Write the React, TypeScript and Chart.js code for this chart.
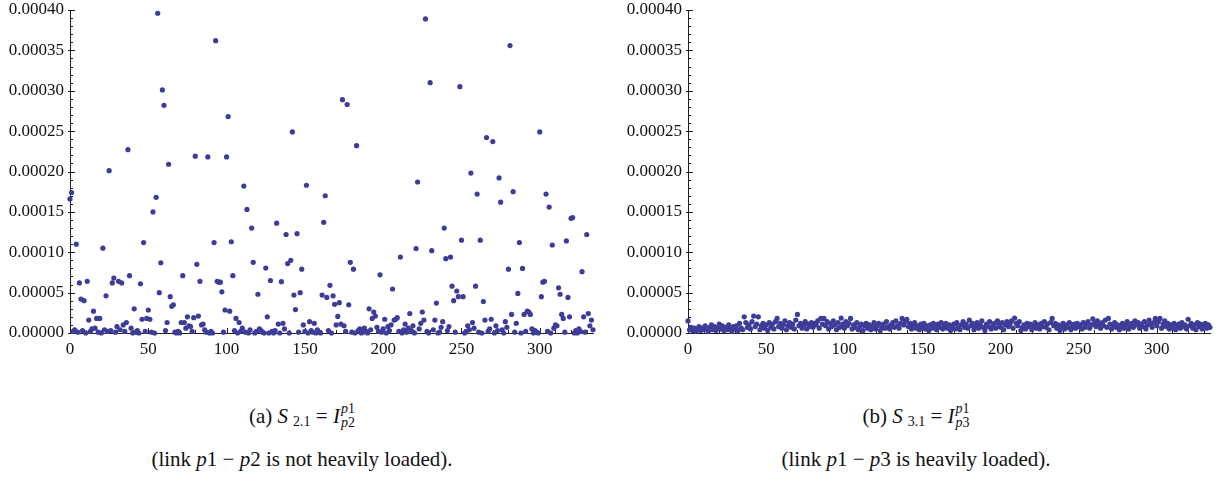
import React, { useEffect, useRef } from 'react';
import { Chart, registerables } from 'chart.js';

Chart.register(...registerables);

// ---------- data ----------
const X_MAX = 334;
const X_TICKS = [0, 50, 100, 150, 200, 250, 300];
const X_MINOR_STEP = 10;
const Y_MAX = 0.0004;
const Y_TICKS = [0, 0.00005, 0.0001, 0.00015, 0.0002, 0.00025, 0.0003, 0.00035, 0.0004];
const Y_TICK_LABELS = ['0.00000', '0.00005', '0.00010', '0.00015', '0.00020', '0.00025', '0.00030', '0.00035', '0.00040'];
const Y_MINOR_STEP = 0.00001;
const VALUE_UNIT = 1e-5;

// (a) S2.1 values, index 0..334, in units of 1e-5
const S21 = [
  16.6, 17.4, 0.2, 0.4, 11.0, 0.1, 6.2, 4.2, 0.3, 4.0,
  0.0, 6.4, 1.6, 0.2, 0.5, 2.7, 0.6, 1.8, 0.1, 1.8,
  0.0, 10.5, 0.4, 4.6, 0.2, 20.1, 0.3, 6.2, 6.8, 0.1,
  0.8, 6.4, 0.4, 6.2, 1.0, 0.2, 1.3, 22.7, 7.1, 0.6,
  0.0, 3.0, 0.1, 0.3, 0.0, 6.1, 1.7, 11.2, 0.2, 1.8,
  2.85, 1.7, 0.1, 15.0, 0.0, 16.8, 39.6, 5.0, 8.7, 30.1,
  28.2, 0.3, 1.3, 20.9, 4.5, 3.3, 3.5, 0.1, 0.0, 0.2,
  0.0, 1.3, 7.1, 1.3, 0.6, 2.0, 0.9, 0.8, 0.2, 1.9,
  21.9, 8.5, 2.1, 6.4, 1.0, 1.1, 0.4, 0.1, 21.8, 0.0,
  0.2, 0.0, 11.2, 36.2, 6.4, 6.3, 6.3, 5.1, 0.1, 2.85,
  21.8, 26.8, 2.7, 11.3, 7.1, 0.3, 1.8, 0.0, 1.3, 0.2,
  0.6, 18.2, 0.1, 15.3, 0.0, 0.4, 13.0, 8.75, 0.0, 0.2,
  4.8, 0.5, 0.3, 0.1, 0.0, 8.05, 2.0, 0.0, 6.5, 0.2,
  0.0, 0.3, 13.6, 1.1, 0.0, 6.35, 1.2, 0.5, 12.2, 8.6,
  0.0, 9.0, 24.9, 4.7, 2.9, 12.3, 0.1, 5.0, 7.9, 1.0,
  0.2, 18.3, 0.0, 1.4, 0.3, 0.1, 1.2, 0.0, 0.4, 0.1,
  0.0, 4.7, 13.7, 17.0, 4.4, 0.3, 5.9, 0.0, 4.6, 3.55,
  1.0, 2.05, 3.75, 1.1, 28.9, 0.9, 0.2, 28.3, 3.5, 8.75,
  0.1, 7.9, 0.0, 23.2, 0.3, 0.5, 0.0, 0.1, 0.6, 0.2,
  0.0, 3.0, 0.4, 1.8, 2.6, 2.1, 0.7, 0.2, 7.2, 0.1,
  0.5, 1.7, 0.0, 0.8, 0.3, 1.0, 5.45, 1.6, 1.7, 1.9,
  0.2, 9.4, 0.0, 0.4, 1.1, 0.1, 0.6, 2.4, 0.3, 0.9,
  0.0, 10.45, 18.7, 0.5, 1.2, 2.6, 1.6, 38.9, 0.2, 0.0,
  31.0, 10.2, 0.4, 1.6, 3.7, 0.0, 0.1, 0.7, 1.4, 13.0,
  9.2, 0.3, 0.8, 9.4, 5.8, 4.0, 0.1, 5.2, 4.5, 30.5,
  11.5, 4.5, 0.0, 0.2, 0.9, 0.4, 19.8, 1.3, 0.6, 5.8,
  17.2, 0.1, 11.5, 0.0, 3.9, 1.6, 24.2, 0.2, 0.5, 1.7,
  23.7, 0.0, 0.9, 0.3, 19.2, 16.2, 0.4, 0.0, 1.4, 0.7,
  7.9, 35.6, 2.3, 17.5, 0.1, 1.2, 4.9, 11.2, 0.0, 8.0,
  2.3, 0.2, 2.7, 2.6, 2.3, 0.5, 0.0, 0.3, 0.1, 0.0,
  24.9, 4.5, 6.3, 6.4, 17.2, 0.2, 15.6, 0.0, 10.9, 0.6,
  1.0, 0.9, 5.6, 4.8, 2.3, 1.8, 0.1, 11.4, 4.4, 2.0,
  14.2, 14.3, 0.0, 0.3, 0.0, 0.5, 0.2, 7.6, 2.0, 0.1,
  12.2, 2.4, 0.9, 1.6, 0.4,
];

// (b) S3.1 values, index 0..334, in units of 1e-5
const S31 = [
  1.5, 0.4, 0.7, 0.3, 0.6, 0.2, 0.5, 0.8, 0.3, 0.6,
  0.4, 0.9, 0.5, 0.2, 0.7, 1.0, 0.4, 0.8, 0.3, 0.6,
  1.1, 0.5, 0.9, 0.3, 0.7, 0.4, 1.0, 0.6, 0.2, 0.8,
  0.5, 0.9, 0.3, 1.2, 0.6, 0.4, 2.0, 1.3, 0.7, 1.0,
  0.5, 1.4, 2.1, 0.8, 1.1, 2.0, 0.4, 0.9, 1.2, 0.6,
  1.0, 0.3, 1.3, 0.7, 1.1, 0.5, 1.4, 1.8, 0.8, 1.2,
  0.6, 1.0, 1.5, 0.4, 0.9, 1.3, 0.7, 1.1, 0.5, 1.6,
  2.3, 0.9, 1.2, 0.6, 1.0, 1.4, 0.5, 1.1, 0.8, 1.3,
  0.7, 1.2, 1.0, 1.5, 0.6, 1.8, 1.1, 1.8, 0.9, 1.4,
  0.5, 1.2, 0.8, 1.5, 1.0, 0.4, 1.3, 0.7, 1.85, 1.1,
  0.6, 1.4, 0.9, 1.2, 1.8, 0.5, 1.0, 0.7, 1.3, 0.4,
  0.8, 1.1, 0.3, 0.9, 1.2, 0.6, 1.0, 0.4, 0.8, 1.3,
  0.5, 0.9, 1.2, 0.3, 0.7, 1.1, 0.6, 1.4, 0.8, 0.5,
  1.0, 1.3, 0.7, 1.5, 0.9, 0.6, 1.2, 1.8, 1.0, 1.4,
  1.7, 0.8, 1.2, 0.5, 1.0, 1.3, 0.6, 0.9, 0.4, 1.1,
  0.7, 1.2, 0.5, 0.9, 0.3, 1.0, 0.6, 1.2, 0.8, 0.4,
  1.1, 0.7, 1.3, 0.5, 0.9, 1.2, 0.6, 1.0, 0.3, 0.8,
  1.1, 0.5, 1.3, 0.8, 0.4, 1.0, 1.4, 0.7, 1.1, 0.6,
  1.6, 0.9, 1.2, 0.4, 0.8, 1.3, 0.6, 1.0, 1.5, 0.7,
  0.3, 1.1, 0.8, 1.4, 0.5, 0.9, 1.2, 0.6, 1.5, 1.0,
  0.7, 1.3, 0.4, 1.0, 1.4, 0.8, 1.1, 1.5, 0.6, 1.85,
  1.2, 0.9, 1.4, 0.3, 0.7, 1.0, 0.5, 1.2, 0.8, 1.1,
  0.4, 0.9, 1.3, 0.6, 1.0, 0.5, 1.2, 0.8, 1.4, 0.7,
  1.1, 0.4, 1.3, 1.8, 0.9, 1.2, 0.6, 1.0, 0.3, 0.8,
  1.2, 0.5, 1.0, 0.7, 1.3, 0.4, 0.9, 1.1, 0.6, 1.2,
  0.8, 1.0, 0.5, 1.3, 0.7, 1.1, 1.4, 0.6, 1.0, 1.75,
  1.2, 0.8, 1.5, 1.0, 0.6, 1.3, 0.9, 1.6, 0.7, 1.8,
  1.1, 0.5, 0.9, 1.3, 0.7, 1.0, 0.4, 0.8, 1.2, 0.6,
  1.0, 1.4, 0.5, 0.9, 1.2, 0.7, 1.5, 1.0, 1.3, 0.6,
  1.1, 0.8, 1.4, 0.5, 1.0, 1.6, 1.2, 0.7, 1.3, 1.8,
  0.9, 1.4, 1.8, 0.6, 1.1, 1.5, 0.8, 1.2, 0.5, 1.0,
  0.7, 1.2, 0.4, 0.9, 1.1, 0.6, 1.3, 0.8, 1.0, 0.5,
  1.7, 0.9, 1.2, 0.6, 1.0, 0.4, 1.3, 0.8, 1.1, 0.5,
  0.9, 1.2, 0.6, 1.0, 0.7,
];

// ---------- style ----------
const SERIF = '"Liberation Serif", "Times New Roman", Times, serif';
const POINT_COLOR = '#3d3d99';
const AXIS_COLOR = '#1e1e1e';
const CANVAS_H = 365;
const PLOT_TOP = 10;
const PLOT_BOTTOM = 333;

const inwardTicks = {
  id: 'inwardTicks',
  beforeDatasetsDraw(chart: any) {
    const { ctx, chartArea, scales } = chart;
    const xs = scales.x;
    const ys = scales.y;
    ctx.save();
    ctx.strokeStyle = AXIS_COLOR;
    ctx.lineWidth = 1;
    ctx.beginPath();
    for (let v = 0; v <= X_MAX; v += X_MINOR_STEP) {
      const px = Math.round(xs.getPixelForValue(v)) + 0.5;
      const major = v % 50 === 0;
      ctx.moveTo(px, chartArea.bottom + (major ? 1 : 0));
      ctx.lineTo(px, chartArea.bottom - (major ? 5 : 3));
    }
    const nMinor = Math.round(Y_MAX / Y_MINOR_STEP);
    for (let k = 0; k <= nMinor; k++) {
      const py = Math.round(ys.getPixelForValue(k * Y_MINOR_STEP)) + 0.5;
      const major = k % 5 === 0;
      ctx.moveTo(chartArea.left - (major ? 2 : 0), py);
      ctx.lineTo(chartArea.left + (major ? 5 : 3), py);
    }
    ctx.stroke();
    ctx.restore();
  },
};

type PanelProps = { values: number[]; left: number; width: number; yAxisW: number; rightPad: number };

function ScatterPanel({ values, left, width, yAxisW, rightPad }: PanelProps) {
  const ref = useRef<HTMLCanvasElement | null>(null);
  useEffect(() => {
    if (!ref.current) return;
    const chart = new Chart(ref.current, {
      type: 'scatter',
      data: {
        datasets: [
          {
            data: values.map((v, i) => ({ x: i, y: v * VALUE_UNIT })),
            pointRadius: 2.6,
            pointHoverRadius: 2.6,
            pointBackgroundColor: POINT_COLOR,
            backgroundColor: POINT_COLOR,
            borderWidth: 0,
            pointBorderWidth: 0,
            clip: false,
          } as any,
        ],
      },
      options: {
        animation: false,
        responsive: false,
        maintainAspectRatio: false,
        events: [],
        layout: { padding: { left: 0, right: rightPad, top: PLOT_TOP, bottom: 0 } },
        plugins: { legend: { display: false }, tooltip: { enabled: false }, title: { display: false } },
        scales: {
          x: {
            type: 'linear',
            min: 0,
            max: X_MAX,
            grid: { display: false, drawTicks: false },
            border: { display: true, color: AXIS_COLOR, width: 1 },
            afterBuildTicks: (s: any) => {
              s.ticks = X_TICKS.map((value) => ({ value }));
            },
            afterFit: (s: any) => {
              s.height = CANVAS_H - PLOT_BOTTOM;
              s.paddingLeft = 0;
              s.paddingRight = 0;
            },
            ticks: {
              padding: 6,
              color: '#111',
              maxRotation: 0,
              autoSkip: false,
              font: { family: SERIF, size: 17 },
              callback: (v: any) => String(v),
            },
          },
          y: {
            type: 'linear',
            min: 0,
            max: Y_MAX,
            grid: { display: false, drawTicks: false },
            border: { display: true, color: AXIS_COLOR, width: 1 },
            afterBuildTicks: (s: any) => {
              s.ticks = Y_TICKS.map((value) => ({ value }));
            },
            afterFit: (s: any) => {
              s.width = yAxisW;
              s.paddingTop = 0;
              s.paddingBottom = 0;
            },
            ticks: {
              padding: 6,
              color: '#111',
              autoSkip: false,
              font: { family: SERIF, size: 17 },
              callback: (_v: any, i: number) => Y_TICK_LABELS[i],
            },
          },
        },
      } as any,
      plugins: [inwardTicks],
    });
    return () => chart.destroy();
  }, [values, yAxisW, rightPad]);
  return (
    <canvas
      ref={ref}
      width={width}
      height={CANVAS_H}
      style={{ position: 'absolute', left, top: 0, width, height: CANVAS_H, display: 'block' }}
    />
  );
}

const scriptStyle: React.CSSProperties = { fontSize: 14 };

function Caption({ cx, tag, subIdx, lower, line2 }: { cx: number; tag: string; subIdx: string; lower: string; line2: React.ReactNode }) {
  const boxW = 500;
  return (
    <>
      <div
        style={{
          position: 'absolute', left: cx - boxW / 2, top: 402, width: boxW, textAlign: 'center',
          fontFamily: SERIF, fontSize: 21, lineHeight: '24px', color: '#111', whiteSpace: 'nowrap',
        }}
      >
        ({tag}) <i>S</i>
        <span style={{ ...scriptStyle, verticalAlign: '-3px', marginLeft: 5 }}>{subIdx}</span>
        {' = '}
        <i>I</i>
        <span style={{ display: 'inline-block', verticalAlign: '-4px', lineHeight: '14px', textAlign: 'left', marginLeft: 1 }}>
          <span style={{ ...scriptStyle, display: 'block' }}><i>p</i>1</span>
          <span style={{ ...scriptStyle, display: 'block' }}><i>p</i>{lower}</span>
        </span>
      </div>
      <div
        style={{
          position: 'absolute', left: cx - boxW / 2, top: 447, width: boxW, textAlign: 'center',
          fontFamily: SERIF, fontSize: 21, lineHeight: '24px', color: '#111', whiteSpace: 'nowrap',
        }}
      >
        {line2}
      </div>
    </>
  );
}

export default function App() {
  return (
    <div style={{ position: 'absolute', left: 0, top: 0, width: 1219, height: 478, background: '#fff', overflow: 'hidden' }}>
      <ScatterPanel values={S21} left={0} width={610} yAxisW={70} rightPad={17} />
      <ScatterPanel values={S31} left={610} width={609} yAxisW={78} rightPad={9} />
      <Caption
        cx={302}
        tag="a"
        subIdx="2.1"
        lower="2"
        line2={<>(link <i>p</i>1 − <i>p</i>2 is not heavily loaded).</>}
      />
      <Caption
        cx={916}
        tag="b"
        subIdx="3.1"
        lower="3"
        line2={<>(link <i>p</i>1 − <i>p</i>3 is heavily loaded).</>}
      />
    </div>
  );
}
